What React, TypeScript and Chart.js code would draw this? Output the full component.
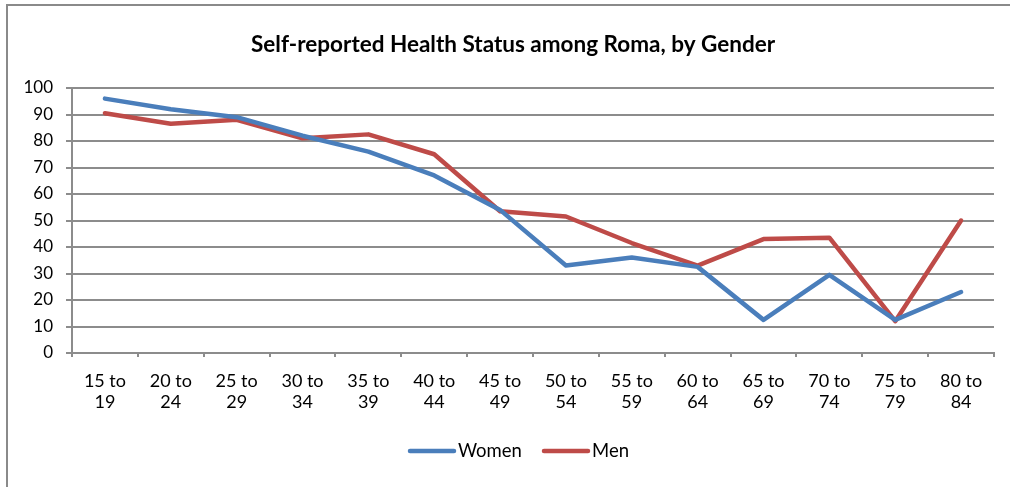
import React, { useEffect, useRef } from "react";
import { Chart, registerables } from "chart.js";

Chart.register(...registerables);

const categories: string[][] = [
  ["15 to", "19"], ["20 to", "24"], ["25 to", "29"], ["30 to", "34"], ["35 to", "39"],
  ["40 to", "44"], ["45 to", "49"], ["50 to", "54"], ["55 to", "59"], ["60 to", "64"],
  ["65 to", "69"], ["70 to", "74"], ["75 to", "79"], ["80 to", "84"],
];
const women: number[] = [96, 92, 89, 82, 76, 67, 54, 33, 36, 32.5, 12.5, 29.5, 12.5, 23];
const men: number[] = [90.5, 86.5, 88, 81, 82.5, 75, 53.5, 51.5, 41.5, 33, 43, 43.5, 12, 50];
const titleText = "Self-reported Health Status among Roma, by Gender";

const FONT = "Lato, 'Open Sans', sans-serif";
const GRID = "#8c8c8c";

const framePlugin = {
  id: "frame",
  beforeDraw(chart: any) {
    const ctx = chart.ctx;
    ctx.save();
    ctx.fillStyle = "#ffffff";
    ctx.fillRect(0, 0, chart.width, chart.height);
    ctx.fillStyle = "#8a8a8a";
    ctx.fillRect(6, 4, 2, chart.height);
    ctx.fillRect(6, 4, chart.width, 2);
    ctx.restore();
  },
};

const titleLegendPlugin = {
  id: "titleLegend",
  afterDraw(chart: any) {
    const ctx = chart.ctx;
    ctx.save();
    ctx.fillStyle = "#000000";
    ctx.font = `bold 22.5px ${FONT}`;
    ctx.textAlign = "left";
    ctx.textBaseline = "alphabetic";
    ctx.fillText(titleText, 251, 52);

    // legend
    ctx.font = `18.5px ${FONT}`;
    const items = chart.data.datasets.map((d: any) => ({ label: d.label, color: d.borderColor }));
    const starts = [408, 542];
    items.forEach((it: any, i: number) => {
      const x = starts[i];
      ctx.strokeStyle = it.color;
      ctx.lineWidth = 4.5;
      ctx.lineCap = "round";
      ctx.beginPath();
      ctx.moveTo(x + 2, 451);
      ctx.lineTo(x + 46, 451);
      ctx.stroke();
      ctx.fillStyle = "#000000";
      ctx.fillText(it.label, x + 50, 457);
    });
    ctx.restore();
  },
};

export default function App() {
  const ref = useRef<HTMLCanvasElement | null>(null);
  useEffect(() => {
    document.body.style.margin = "0";
    if (!ref.current) return;
    const chart = new Chart(ref.current, {
      type: "line",
      data: {
        labels: categories,
        datasets: [
          {
            label: "Women",
            data: women,
            borderColor: "#4a7ebb",
            backgroundColor: "#4a7ebb",
            borderWidth: 4.5,
            pointRadius: 0,
            tension: 0,
            borderJoinStyle: "round",
            borderCapStyle: "round",
          },
          {
            label: "Men",
            data: men,
            borderColor: "#be4b48",
            backgroundColor: "#be4b48",
            borderWidth: 4.5,
            pointRadius: 0,
            tension: 0,
            borderJoinStyle: "round",
            borderCapStyle: "round",
          },
        ],
      },
      options: {
        responsive: false,
        animation: false,
        layout: { padding: { top: 88, left: 8, right: 16, bottom: 64 } },
        plugins: {
          legend: { display: false },
          title: { display: false },
          tooltip: { enabled: false },
        },
        scales: {
          x: {
            offset: true,
            grid: {
              offset: true,
              drawOnChartArea: false,
              drawTicks: true,
              tickLength: 4,
              color: GRID,
              lineWidth: 2,
            },
            border: { display: true, color: GRID, width: 2 },
            ticks: {
              color: "#000000",
              font: { family: FONT, size: 18, lineHeight: 1.17 },
              padding: 14,
              maxRotation: 0,
              autoSkip: false,
            },
            afterFit(scale: any) {
              scale.height = 70;
            },
          },
          y: {
            min: 0,
            max: 100,
            ticks: {
              stepSize: 10,
              color: "#000000",
              font: { family: FONT, size: 17 },
              padding: 13,
            },
            grid: {
              color: GRID,
              lineWidth: 2,
              drawTicks: true,
              tickLength: 6,
            },
            border: { display: true, color: GRID, width: 2 },
            afterFit(scale: any) {
              scale.width = 64;
            },
          },
        },
      },
      plugins: [framePlugin, titleLegendPlugin],
    } as any);
    return () => chart.destroy();
  }, []);
  return <canvas ref={ref} width={1010} height={487} style={{ display: "block" }} />;
}
